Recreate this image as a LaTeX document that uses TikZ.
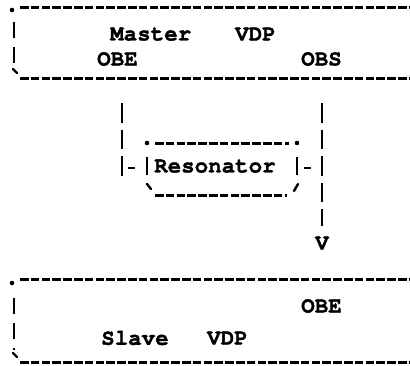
\documentclass[tikz,border=0pt]{standalone}
\usepackage{fontspec}
\newfontfamily\typewr{texgyrecursor-bold.otf}[FakeBold=1.3]
\begin{document}
\begin{tikzpicture}[x=1pt,y=-1pt,
  txt/.style={font=\typewr\fontsize{22.5}{22.5}\selectfont, inner sep=0pt, anchor=west},
  dline/.style={line width=3pt, dash pattern=on 8.5pt off 2.3pt},
  edgebar/.style={line width=2.4pt, dash pattern=on 16pt off 9pt},
  vline/.style={line width=2.4pt, dash pattern=on 19.5pt off 7pt},
  tick/.style={line width=2.4pt, line cap=round},
  stub/.style={line width=2.6pt}]
\useasboundingbox (0,0) rectangle (410,365);

% top box (Master VDP)
\fill (12,10) circle (2.3);
\draw[dline] (20,7) -- (410,7);
\draw[edgebar] (14,22) -- (14,65);
\draw[tick] (13,69) -- (17,73);
\draw[dline] (20,78) -- (410,78);
\node[txt] (master) at (110,34) {Master};
\node[txt] (vdpm) at (235,34) {VDP};
\node[txt] (obe) at (97,59) {OBE};
\node[txt] (obs) at (301,59) {OBS};

% resonator box
\node[txt] (res) at (154,166) {Resonator};
\fill (147,143) circle (2.3);
\fill (297,143) circle (2.3);
\draw[dline] (155,143) -- (289,143);
\draw[dline] (155,195) -- (287,195);
\draw[tick] (147,184) -- (151,189);
\draw[tick] (298,184) -- (294,191);
\coordinate (rl1) at (147,157); \coordinate (rl2) at (147,175);
\coordinate (rr1) at (297,157); \coordinate (rr2) at (297,175);
\draw[stub] (rl1) -- (rl2);
\draw[stub] (rr1) -- (rr2);

% connectors
\coordinate (la) at (122,103); \coordinate (lb) at (122,177);
\draw[vline] (la) -- (lb);
\coordinate (lc) at (128,168); \coordinate (ld) at (135,168);
\draw[stub] (lc) -- (ld);
\coordinate (rc) at (304,168); \coordinate (rd) at (311,168);
\draw[stub] (rc) -- (rd);
\coordinate (ra) at (322,103); \coordinate (rb) at (322,226);
\draw[vline] (ra) -- (rb);
\node[txt, anchor=center] (v) at (322,243) {V};

% bottom box (Slave VDP)
\fill (12,283) circle (2.3);
\draw[dline] (20,279) -- (410,279);
\draw[edgebar] (14,298) -- (14,350);
\draw[tick] (13,353) -- (17,357);
\draw[dline] (20,362) -- (410,362);
\node[txt] (obe2) at (301,306) {OBE};
\node[txt] (slave) at (101,338) {Slave};
\node[txt] (vdps) at (207,338) {VDP};
\end{tikzpicture}
\end{document}
